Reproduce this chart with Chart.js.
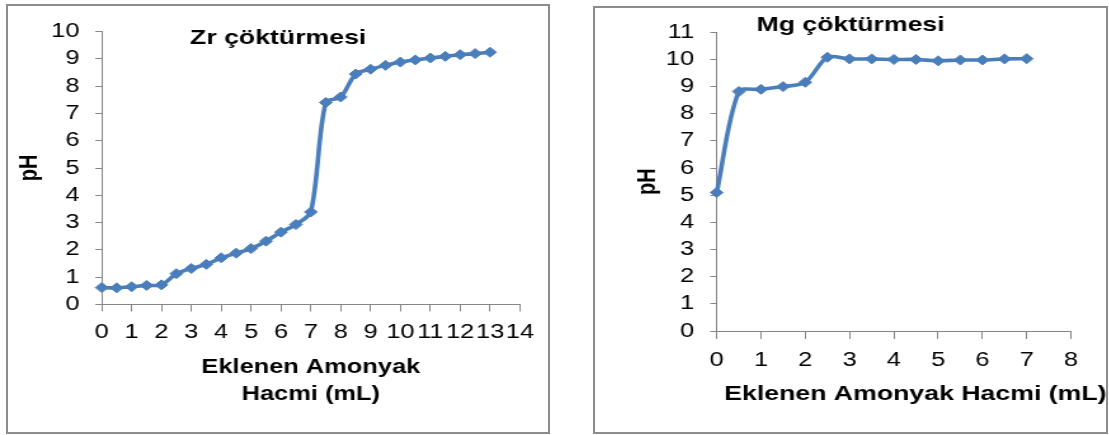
<!DOCTYPE html>
<html>
<head>
<meta charset="utf-8">
<script src="https://cdn.jsdelivr.net/npm/chart.js@4.4.1/dist/chart.umd.min.js"></script>
<style>
  html, body { margin: 0; padding: 0; background: #fff; }
  body { width: 1109px; height: 435px; position: relative; overflow: hidden; }
  .frame { position: absolute; border: 2px solid #8c8c8c; box-sizing: border-box; }
  /* the charts are drawn narrow and widened, the way the printed figure is */
  .wide { position: absolute; top: 0; transform: scaleX(1.27); transform-origin: 0 0; }
  .wide canvas { display: block; }
</style>
</head>
<body>
<div class="frame" style="left:6px;top:4px;width:544px;height:430px"></div>
<div class="frame" style="left:593px;top:6px;width:515px;height:428px"></div>
<div class="wide" style="left:0"><canvas id="zr" width="435" height="435"></canvas></div>
<div class="wide" style="left:594px"><canvas id="mg" width="406" height="435"></canvas></div>
<script>
// added ammonia volume (mL) and measured pH
const zrVolume = [0, 0.5, 1, 1.5, 2, 2.5, 3, 3.5, 4, 4.5, 5, 5.5, 6, 6.5, 7, 7.5, 8, 8.5, 9, 9.5, 10, 10.5, 11, 11.5, 12, 12.5, 13];
const zrPH = [0.62, 0.61, 0.65, 0.70, 0.72, 1.13, 1.32, 1.47, 1.71, 1.88, 2.05, 2.32, 2.65, 2.93, 3.39, 7.40, 7.60, 8.44, 8.62, 8.76, 8.88, 8.96, 9.03, 9.09, 9.15, 9.19, 9.24];

const mgVolume = [0, 0.5, 1, 1.5, 2, 2.5, 3, 3.5, 4, 4.5, 5, 5.5, 6, 6.5, 7];
const mgPH = [5.10, 8.82, 8.90, 9.00, 9.16, 10.08, 10.02, 10.02, 10.00, 10.00, 9.95, 9.98, 9.98, 10.02, 10.03];

const zrTitle = 'Zr çöktürmesi';
const mgTitle = 'Mg çöktürmesi';
const yTitle = 'pH';
const xTitleLines = ['Eklenen Amonyak', 'Hacmi (mL)'];
const xTitleOneLine = 'Eklenen Amonyak Hacmi (mL)';

const BLUE = '#4a7ebb';
const AXIS = '#868686';
const FONT = '"Liberation Sans", Arial, sans-serif';

Chart.defaults.font.family = FONT;
Chart.defaults.color = '#000';

// free-standing captions (chart titles sit inside the plot area)
const captions = {
  id: 'captions',
  afterDraw(chart, args, opts) {
    const ctx = chart.ctx;
    (opts.items || []).forEach(it => {
      ctx.save();
      ctx.font = it.font;
      ctx.fillStyle = '#000';
      ctx.textAlign = 'center';
      ctx.textBaseline = 'middle';
      ctx.fillText(it.text, it.x, it.y);
      ctx.restore();
    });
  }
};

function points(xs, ys) {
  return xs.map((x, i) => ({ x, y: ys[i] }));
}

function lineSet(xs, ys) {
  return {
    data: points(xs, ys),
    clip: false,
    borderColor: BLUE,
    backgroundColor: BLUE,
    borderWidth: 3.6,
    tension: 0.3,
    pointStyle: 'rectRot',
    pointRadius: 5,
    pointBorderWidth: 1,
    pointBorderColor: BLUE,
    pointBackgroundColor: BLUE
  };
}

function makeChart(id, cfg) {
  return new Chart(document.getElementById(id), {
    type: 'line',
    data: { datasets: [lineSet(cfg.xs, cfg.ys)] },
    plugins: [captions],
    options: {
      responsive: false,
      animation: false,
      layout: { padding: cfg.padding },
      plugins: {
        legend: { display: false },
        tooltip: { enabled: false },
        captions: { items: cfg.captions }
      },
      scales: {
        x: {
          type: 'linear',
          min: 0,
          max: cfg.xMax,
          afterFit: s => { s.height = cfg.xHeight; },
          border: { display: true, color: AXIS, width: 1 },
          grid: { drawOnChartArea: false, drawTicks: true, tickLength: cfg.xTick, color: AXIS },
          ticks: { stepSize: 1, autoSkip: false, maxRotation: 0, padding: cfg.xPad, font: { size: 20 } },
          title: cfg.xTitle
        },
        y: {
          min: 0,
          max: cfg.yMax,
          afterFit: s => { s.width = cfg.yWidth; },
          border: { display: true, color: AXIS, width: 1 },
          grid: { drawOnChartArea: false, drawTicks: true, tickLength: 5, color: AXIS },
          ticks: { stepSize: 1, autoSkip: false, padding: cfg.yPad, font: { size: 20 } },
          title: {
            display: true,
            text: yTitle,
            padding: { top: cfg.yTitlePad, bottom: 0 },
            font: { size: 20, weight: 'bold' }
          }
        }
      }
    }
  });
}

makeChart('zr', {
  xs: zrVolume, ys: zrPH, xMax: 14, yMax: 10,
  padding: { left: 6, top: 31.5, right: 25.6, bottom: 0 },
  xHeight: 130.5, xTick: 7, xPad: 9.2,
  yWidth: 74.1, yPad: 12.6, yTitlePad: 5.6,
  xTitle: {
    display: true,
    text: xTitleLines,
    padding: { top: 0, bottom: 27 },
    font: { size: 20, weight: 'bold', lineHeight: 1.35 }
  },
  captions: [
    { text: zrTitle, x: 219, y: 38, font: 'bold 21px ' + FONT }
  ]
});

makeChart('mg', {
  xs: mgVolume, ys: mgPH, xMax: 8, yMax: 11,
  padding: { left: 6, top: 32.3, right: 30.4, bottom: 0 },
  xHeight: 104, xTick: 8, xPad: 9,
  yWidth: 90.6, yPad: 12.8, yTitlePad: 24.5,
  xTitle: { display: false },
  captions: [
    { text: mgTitle, x: 202, y: 25, font: 'bold 21px ' + FONT },
    { text: xTitleOneLine, x: 253, y: 394, font: 'bold 21px ' + FONT }
  ]
});
</script>
</body>
</html>
